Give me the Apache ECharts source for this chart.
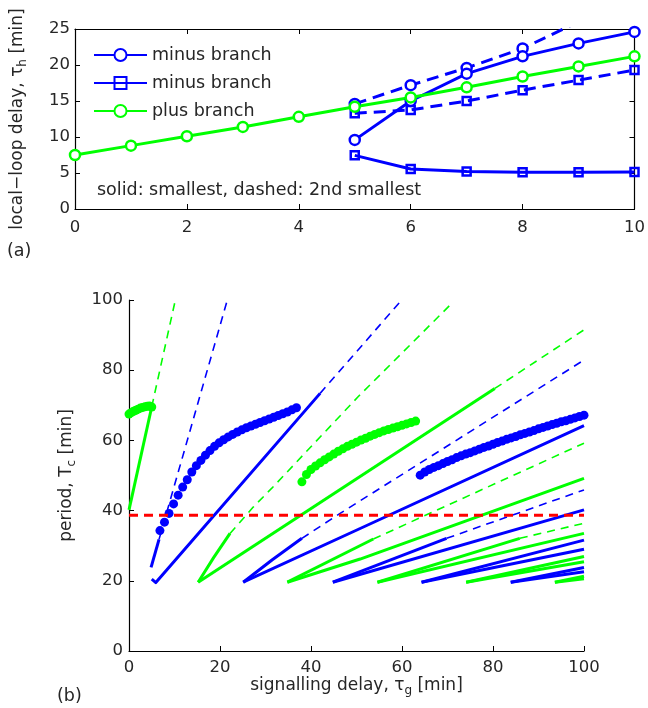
<!DOCTYPE html>
<html><head><meta charset="utf-8">
<script src="https://cdn.jsdelivr.net/npm/echarts@6/dist/echarts.min.js"></script>
<style>html,body{margin:0;padding:0;background:#fff}#c{width:648px;height:708px}</style>
</head><body><div id="c"></div><script>
// ---------- panel (a) data ----------
const topTau = [0,1,2,3,4,5,6,7,8,9,10];
const plusSmallest = [7.5,8.8,10.1,11.4,12.8,14.2,15.5,16.9,18.4,19.8,21.2];
const minusTau = [5,6,7,8,9,10];
const minusCircleSmallest = [9.6,15.0,18.8,21.2,23.0,24.6];
const minusCircleSecond = [14.6,17.2,19.6,22.3,26.0,null];
const minusSquareSmallest = [7.45,5.55,5.2,5.1,5.1,5.15];
const minusSquareSecond = [13.3,13.75,15.0,16.5,17.9,19.3];
const topXTicks = [0,10,2];
const topYTicks = [0,25,5];

// ---------- panel (b) data ----------
const g0Solid = [[0,40.2],[5.0,69.6]];
const g0Dash = [[5.0,69.6],[10.1,99.5]];
const b1SteepSolid = [[4.85,23.8],[6.6,31.8]];
const b1SteepDash = [[6.6,31.8],[21.5,99.5]];
const b1LowerSolid = [[5.0,20.5],[5.9,19.5],[42.0,73.4]];
const b1LowerDash = [[42.0,73.4],[59.6,99.5]];
const g2UpperSolid = [[15.2,19.6],[18.6,26.6],[22.2,33.5]];
const g2UpperDash = [[22.2,33.5],[27.3,41.0],[31.7,46.8],[50.4,72.5],[71.3,99.5]];
const g2LowerSolid = [[15.2,19.6],[80.4,74.8]];
const g2LowerDash = [[80.4,74.8],[100,91.5]];
const b3UpperSolid = [[25.1,19.6],[31.5,26.0],[38.0,32.1]];
const b3UpperDash = [[38.0,32.1],[46.4,39.2],[100,82.9]];
const b3Lower = [[25.1,19.6],[50.8,34.9],[100,64.2]];
const g4UpperSolid = [[34.8,19.6],[53.7,31.9]];
const g4UpperDash = [[53.7,31.9],[100,59.2]];
const g4Lower = [[34.8,19.6],[50.8,26.2],[100,49.2]];
const b5UpperSolid = [[44.8,19.6],[69.8,32.1]];
const b5UpperDash = [[69.8,32.1],[100,45.9]];
const b5Lower = [[44.8,19.6],[100,40.2]];
const g6UpperSolid = [[54.6,19.6],[85.9,32.1]];
const g6UpperDash = [[85.9,32.1],[100,36.4]];
const g6Lower = [[54.6,19.6],[100,33.5]];
const b7Upper = [[64.3,19.6],[100,31.6]];
const b7Lower = [[64.3,19.6],[100,29.0]];
const g8Upper = [[74.1,19.6],[100,26.9]];
const g8Lower = [[74.1,19.6],[100,25.4]];
const b9Upper = [[83.9,19.6],[100,23.8]];
const b9Lower = [[83.9,19.6],[100,22.6]];
const g10Upper = [[93.6,19.6],[100,21.3]];
const g10Lower = [[93.6,19.6],[100,20.6]];
const redLevel = 38.7;
const redRange = [0,100];

const greenDots1Tau = [0,0.5,1,1.5,2,2.5,3,3.5,4,4.5,5];
const greenDots1T = [67.5,67.9,68.3,68.6,68.9,69.2,69.4,69.6,69.7,69.8,69.5];
const blueDots1Tau = [6.8,7.8,8.8,9.8,10.8,11.8,12.8,13.8,14.8,15.8,16.8,17.8,18.8,19.8,20.8,21.8,22.8,23.8,24.8,25.8,26.8,27.8,28.8,29.8,30.8,31.8,32.8,33.8,34.8,35.8,36.8];
const blueDots1T = [34.3,36.7,39.2,41.9,44.4,46.7,48.8,51.0,52.8,54.3,55.8,57.1,58.3,59.3,60.2,61.0,61.7,62.4,63.0,63.6,64.1,64.6,65.1,65.6,66.1,66.6,67.1,67.6,68.1,68.7,69.3];
const greenDots2Tau = [38,39,40,41,42,43,44,45,46,47,48,49,50,51,52,53,54,55,56,57,58,59,60,61,62,63];
const greenDots2T = [48.2,50.3,51.7,52.7,53.6,54.5,55.3,56.1,56.9,57.6,58.3,58.9,59.5,60.1,60.6,61.2,61.7,62.2,62.7,63.1,63.5,63.9,64.3,64.7,65.1,65.5];
const blueDots2Tau = [64,65,66,67,68,69,70,71,72,73,74,75,76,77,78,79,80,81,82,83,84,85,86,87,88,89,90,91,92,93,94,95,96,97,98,99,100];
const blueDots2T = [50.1,51.0,51.7,52.3,52.8,53.4,54.0,54.5,55.1,55.6,56.1,56.5,57.0,57.5,58.0,58.4,58.9,59.4,59.8,60.3,60.7,61.1,61.6,62.0,62.4,62.8,63.3,63.7,64.1,64.5,64.9,65.3,65.6,66.0,66.4,66.8,67.2];
const botXTicks = [0,100,20];
const botYTicks = [0,100,20];

// ---------- styling ----------
const FONT = "'DejaVu Sans', 'Liberation Sans', Arial, sans-serif";
const TXT = '#262626';
const BLUE = '#0000ff', GREEN = '#00ff00', RED = '#ff0000';
const zip = (xs, ys) => xs.map((x, i) => [x, ys[i]]);

function axisCommon(range, showLabel, margin) {
  return {
    type: 'value', min: range[0], max: range[1], interval: range[2],
    axisLine: { show: true, onZero: false, lineStyle: { color: '#000', width: 1.2 } },
    axisTick: { show: true, inside: true, length: 5, lineStyle: { color: '#000', width: 1 } },
    axisLabel: { show: showLabel, fontSize: 16.5, color: TXT, fontFamily: FONT, margin: margin },
    splitLine: { show: false }
  };
}
const richName = {
  n: { fontSize: 17, color: TXT, fontFamily: FONT, lineHeight: 20, verticalAlign: 'top' },
  s: { fontSize: 12, color: TXT, fontFamily: FONT, lineHeight: 8, verticalAlign: 'bottom' }
};

const xAxes = [
  Object.assign(axisCommon(topXTicks, true, 10), { gridIndex: 0, position: 'bottom' }),
  Object.assign(axisCommon(topXTicks, false, 8), { gridIndex: 0, position: 'top' }),
  Object.assign(axisCommon(botXTicks, true, 8), { gridIndex: 1, position: 'bottom',
    name: '{n|signalling delay, τ}{s|g}{n| [min]}', nameLocation: 'middle', nameGap: 26,
    nameTextStyle: { rich: richName } })
];
const yAxes = [
  Object.assign(axisCommon(topYTicks, true, 5), { gridIndex: 0, position: 'left',
    name: '{n|local−loop delay, τ}{s|h}{n| [min]}', nameLocation: 'middle', nameGap: 46,
    nameTextStyle: { rich: richName } }),
  Object.assign(axisCommon(topYTicks, false, 8), { gridIndex: 0, position: 'right' }),
  Object.assign(axisCommon(botYTicks, true, 6), { gridIndex: 1, position: 'left',
    name: '{n|period, T}{s|c}{n| [min]}', nameLocation: 'middle', nameGap: 51,
    nameTextStyle: { rich: richName } })
];

const series = [];
// panel (a)
function topLine(name, xs, ys, color, dashed, symbol, fill) {
  series.push({
    name: name, type: 'line', xAxisIndex: 0, yAxisIndex: 0, data: zip(xs, ys),
    symbol: symbol, symbolSize: symbol === 'rect' ? 8 : 10, showSymbol: true,
    clip: true, animation: false, silent: true, connectNulls: false,
    lineStyle: { color: color, width: 3, type: dashed ? [12, 7] : 'solid' },
    itemStyle: { color: fill, borderColor: color, borderWidth: 2.5 }
  });
}
topLine('minus circle 2nd', minusTau, minusCircleSecond, BLUE, true, 'circle', '#fff');
topLine('minus square 2nd', minusTau, minusSquareSecond, BLUE, true, 'rect', 'transparent');
topLine('minus branch', minusTau, minusCircleSmallest, BLUE, false, 'circle', '#fff');
topLine('minus branch (sq)', minusTau, minusSquareSmallest, BLUE, false, 'rect', 'transparent');
topLine('plus branch', topTau, plusSmallest, GREEN, false, 'circle', '#fff');

// panel (b)
function botLine(data, color, dashed) {
  series.push({
    type: 'line', xAxisIndex: 2, yAxisIndex: 2, data: data, symbol: 'none', showSymbol: false,
    animation: false, silent: true, clip: true, z: dashed ? 2 : 3,
    lineStyle: { color: color, width: dashed ? 1.6 : 3, type: dashed ? [8, 6] : 'solid', join: 'round', cap: 'butt' }
  });
}
botLine(g0Solid, GREEN, false); botLine(g0Dash, GREEN, true);
botLine(b1SteepSolid, BLUE, false); botLine(b1SteepDash, BLUE, true);
botLine(b1LowerSolid, BLUE, false); botLine(b1LowerDash, BLUE, true);
botLine(g2UpperSolid, GREEN, false); botLine(g2UpperDash, GREEN, true);
botLine(g2LowerSolid, GREEN, false); botLine(g2LowerDash, GREEN, true);
botLine(b3UpperSolid, BLUE, false); botLine(b3UpperDash, BLUE, true); botLine(b3Lower, BLUE, false);
botLine(g4UpperSolid, GREEN, false); botLine(g4UpperDash, GREEN, true); botLine(g4Lower, GREEN, false);
botLine(b5UpperSolid, BLUE, false); botLine(b5UpperDash, BLUE, true); botLine(b5Lower, BLUE, false);
botLine(g6UpperSolid, GREEN, false); botLine(g6UpperDash, GREEN, true); botLine(g6Lower, GREEN, false);
botLine(b7Upper, BLUE, false); botLine(b7Lower, BLUE, false);
botLine(g8Upper, GREEN, false); botLine(g8Lower, GREEN, false);
botLine(b9Upper, BLUE, false); botLine(b9Lower, BLUE, false);
botLine(g10Upper, GREEN, false); botLine(g10Lower, GREEN, false);

function dots(xs, ys, color) {
  series.push({
    type: 'scatter', xAxisIndex: 2, yAxisIndex: 2, data: zip(xs, ys), symbol: 'circle', symbolSize: 9,
    itemStyle: { color: color, opacity: 1 }, animation: false, silent: true, z: 4
  });
}
dots(greenDots1Tau, greenDots1T, GREEN);
dots(blueDots1Tau, blueDots1T, BLUE);
dots(greenDots2Tau, greenDots2T, GREEN);
dots(blueDots2Tau, blueDots2T, BLUE);

series.push({
  type: 'line', xAxisIndex: 2, yAxisIndex: 2, data: redRange.map(x => [x, redLevel]),
  symbol: 'none', animation: false, silent: true, z: 6,
  lineStyle: { color: RED, width: 3, type: [9, 6] }
});

const option = {
  backgroundColor: '#fff',
  animation: false,
  grid: [
    { left: 75, top: 29, width: 562, height: 180, containLabel: false },
    { left: 129, top: 300, width: 455, height: 351, containLabel: false }
  ],
  xAxis: xAxes,
  yAxis: yAxes,
  legend: {
    data: ['minus branch', 'minus branch (sq)', 'plus branch'],
    formatter: n => n.replace(' (sq)', ''),
    orient: 'vertical', left: 93, top: 46, padding: 0,
    itemWidth: 53, itemHeight: 15, itemGap: 10, selectedMode: false,
    textStyle: { fontSize: 17.5, color: TXT, fontFamily: FONT }
  },
  graphic: [
    { type: 'text', left: 97, top: 181, silent: true,
      style: { text: 'solid: smallest, dashed: 2nd smallest', fontSize: 17.5, fill: TXT, fontFamily: FONT } },
    { type: 'text', left: 7, top: 242, silent: true,
      style: { text: '(a)', fontSize: 17.5, fill: TXT, fontFamily: FONT } },
    { type: 'text', left: 57, top: 687, silent: true,
      style: { text: '(b)', fontSize: 17.5, fill: TXT, fontFamily: FONT } }
  ],
  series: series
};
const chart = echarts.init(document.getElementById('c'), null, { renderer: 'canvas' });
chart.setOption(option);
</script></body></html>
